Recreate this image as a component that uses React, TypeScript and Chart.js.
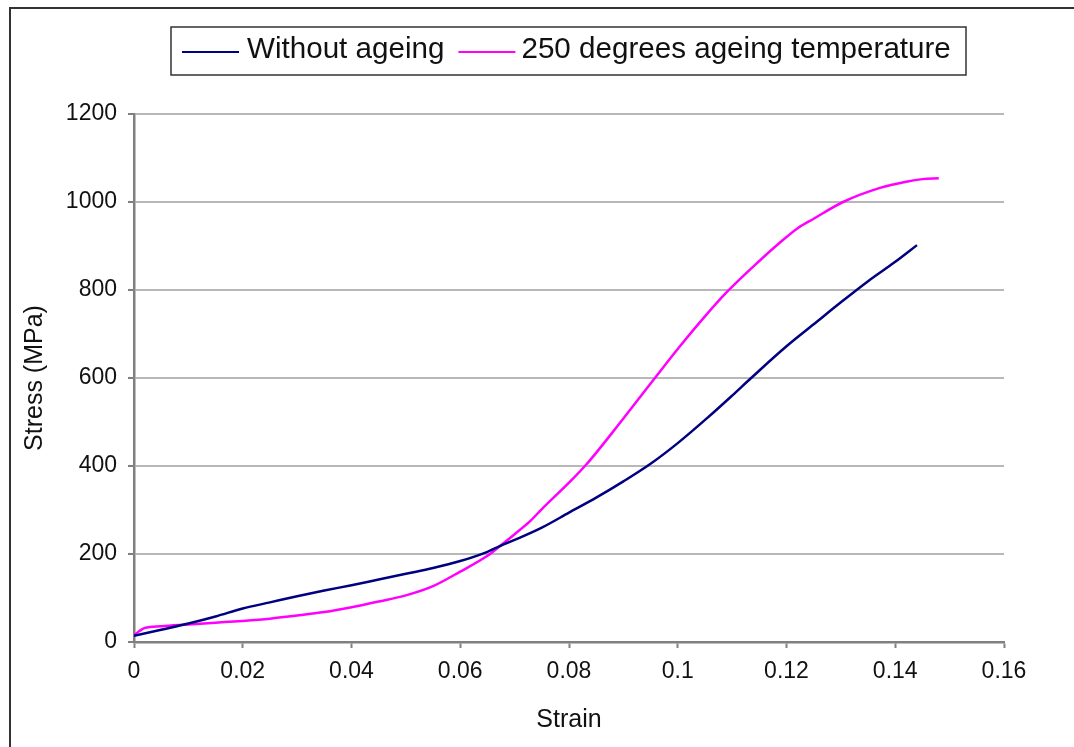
import React, { useEffect, useRef } from "react";
import { Chart, registerables } from "chart.js";

Chart.register(...registerables);

const strainWithout = [0, 0.005, 0.01, 0.015, 0.02, 0.025, 0.03, 0.035, 0.04, 0.045, 0.05, 0.055, 0.06, 0.065, 0.0673, 0.07, 0.075, 0.08, 0.085, 0.09, 0.095, 0.1, 0.1056, 0.11, 0.1135, 0.12, 0.125, 0.13, 0.135, 0.14, 0.144];
const stressWithout = [14, 28, 42, 58, 76, 90, 104, 117, 129, 142, 155, 168, 184, 205, 218, 232, 260, 294, 328, 365, 405, 452, 511, 560, 600, 672, 722, 772, 820, 864, 902];

const strainAged = [0, 0.001, 0.002, 0.005, 0.01, 0.015, 0.02, 0.025, 0.03, 0.035, 0.04, 0.045, 0.05, 0.055, 0.06, 0.065, 0.0673, 0.07, 0.0728, 0.075, 0.08, 0.0833, 0.09, 0.0958, 0.1004, 0.105, 0.109, 0.115, 0.1188, 0.122, 0.125, 0.1304, 0.1372, 0.142, 0.145, 0.148];
const stressAged = [15, 25, 32, 36, 40, 44, 48, 53, 60, 68, 79, 92, 106, 127, 160, 196, 218, 245, 274, 302, 362, 405, 508, 600, 672, 740, 795, 866, 908, 940, 962, 1000, 1032, 1046, 1052, 1054];

const seriesLabels = ["Without ageing", "250 degrees ageing temperature"];
const seriesColors = ["#000080", "#ff00ff"];

const xTicks = [0, 0.02, 0.04, 0.06, 0.08, 0.1, 0.12, 0.14, 0.16];
const yTicks = [0, 200, 400, 600, 800, 1000, 1200];

const FONT = "'Liberation Sans', Arial, sans-serif";

const framePlugin = {
  id: "frame",
  afterDraw(chart: any) {
    const ctx = chart.ctx;
    ctx.save();
    ctx.strokeStyle = "#333333";
    ctx.lineWidth = 2;
    ctx.beginPath();
    ctx.moveTo(10, 747);
    ctx.lineTo(10, 8);
    ctx.lineTo(1074, 8);
    ctx.stroke();

    // legend
    const ds = chart.data.datasets;
    ctx.font = "29.6px " + FONT;
    ctx.textBaseline = "middle";
    ctx.fillStyle = "#111";
    ctx.lineWidth = 1.5;
    ctx.strokeStyle = "#333333";
    ctx.strokeRect(171, 27, 795, 48);
    let x = 182;
    const ly = 52;
    const ty = 50;
    ds.forEach((d: any, i: number) => {
      ctx.strokeStyle = d.borderColor;
      ctx.lineWidth = 2;
      ctx.beginPath();
      ctx.moveTo(x, ly);
      ctx.lineTo(x + 57, ly);
      ctx.stroke();
      x += 57 + (i === 0 ? 8 : 6);
      ctx.fillText(d.label, x, ty);
      x += ctx.measureText(d.label).width + 14;
    });
    ctx.restore();
  },
};

export default function App() {
  const ref = useRef<HTMLCanvasElement | null>(null);
  useEffect(() => {
    if (!ref.current) return;
    const chart = new Chart(ref.current, {
      type: "line",
      data: {
        datasets: [
          {
            label: seriesLabels[0],
            data: strainWithout.map((s, i) => ({ x: s, y: stressWithout[i] })),
            borderColor: seriesColors[0],
            backgroundColor: seriesColors[0],
            borderWidth: 2.5,
            pointRadius: 0,
            cubicInterpolationMode: "monotone",
          },
          {
            label: seriesLabels[1],
            data: strainAged.map((s, i) => ({ x: s, y: stressAged[i] })),
            borderColor: seriesColors[1],
            backgroundColor: seriesColors[1],
            borderWidth: 2.5,
            pointRadius: 0,
            cubicInterpolationMode: "monotone",
          },
        ],
      },
      plugins: [framePlugin],
      options: {
        animation: false,
        responsive: false,
        maintainAspectRatio: false,
        layout: { padding: { left: 0, right: 70, top: 114, bottom: 0 } },
        plugins: { legend: { display: false }, tooltip: { enabled: false } },
        scales: {
          x: {
            type: "linear",
            min: 0,
            max: 0.16,
            afterFit(scale: any) {
              scale.height = 105;
            },
            afterBuildTicks(scale: any) {
              scale.ticks = xTicks.map((v) => ({ value: v }));
            },
            ticks: {
              color: "#111",
              font: { family: FONT, size: 23 },
              padding: 10,
              maxRotation: 0,
              callback: (v: any) => String(Number(Number(v).toFixed(2))),
            },
            grid: {
              drawOnChartArea: false,
              drawTicks: true,
              tickLength: 6,
              tickColor: "#808080",
              tickWidth: 2,
            },
            border: { color: "#808080", width: 2.5 },
            title: {
              display: true,
              text: "Strain",
              color: "#111",
              font: { family: FONT, size: 25 },
              padding: { top: 0, bottom: 12 },
            },
          },
          y: {
            type: "linear",
            min: 0,
            max: 1200,
            afterFit(scale: any) {
              scale.width = 134;
            },
            afterBuildTicks(scale: any) {
              scale.ticks = yTicks.map((v) => ({ value: v }));
            },
            ticks: {
              color: "#111",
              font: { family: FONT, size: 23 },
              padding: 11,
              callback: (v: any) => String(v),
            },
            grid: {
              color: "#b8b8b8",
              lineWidth: 2,
              drawTicks: true,
              tickLength: 6,
              tickColor: "#808080",
              tickWidth: 2,
            },
            border: { color: "#808080", width: 2.5 },
            title: {
              display: true,
              text: "Stress (MPa)",
              color: "#111",
              font: { family: FONT, size: 25 },
              padding: { top: 20, bottom: 0 },
            },
          },
        },
      },
    });
    return () => chart.destroy();
  }, []);
  return (
    <div style={{ position: "fixed", left: 0, top: 0, width: 1074, height: 747, background: "#fff" }}>
      <canvas ref={ref} width={1074} height={747} style={{ display: "block", width: 1074, height: 747 }} />
    </div>
  );
}
